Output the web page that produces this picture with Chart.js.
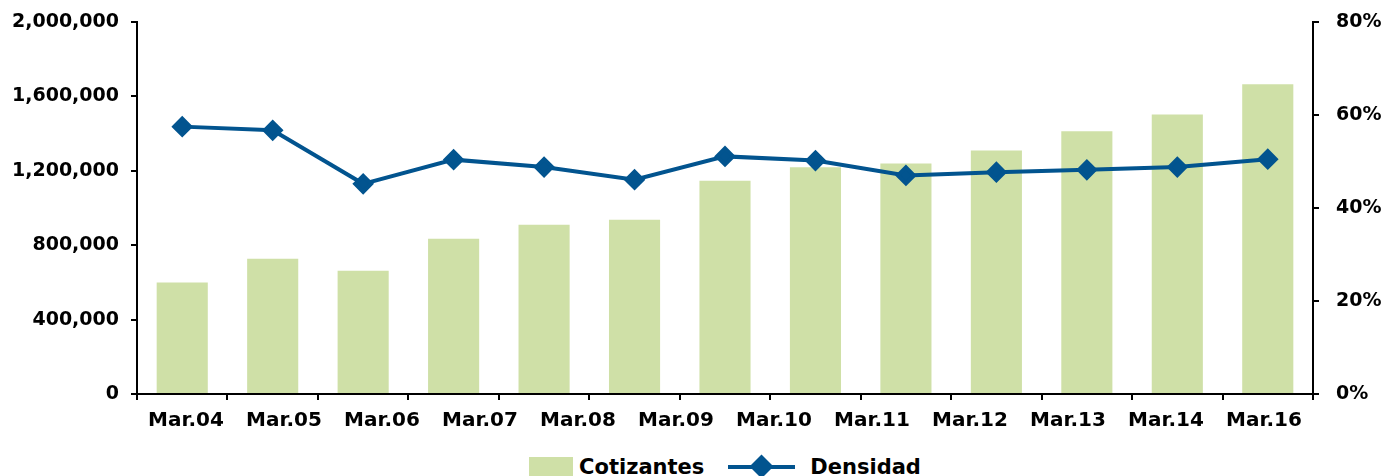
<!DOCTYPE html>
<html>
<head>
<meta charset="utf-8">
<script src="https://cdn.jsdelivr.net/npm/chart.js@4/dist/chart.umd.min.js"></script>
<style>
  body { margin: 0; background: #fff; overflow: hidden; }
  #wrap { position: relative; width: 1387px; height: 476px; overflow: hidden; }
  #box { position: absolute; left: 0; top: 0; width: 1387px; height: 441px; }
  #legend { position: absolute; top: 455px; display: flex; justify-content: center; align-items: center;
            font: bold 21px "DejaVu Sans", sans-serif; color: #000; }
  .item { display: flex; align-items: center; }
  .swatch { width: 44px; height: 20px; margin-right: 6px; }
  .linekey { position: relative; width: 67px; height: 4px; margin-left: 24px; margin-right: 15px; }
  .linekey span { position: absolute; left: 25px; top: -7px; width: 17px; height: 17px; transform: rotate(45deg); }
</style>
</head>
<body>
<div id="wrap">
  <div id="box"><canvas id="chart"></canvas></div>
  <div id="legend"></div>
</div>
<script>
const categories = ['Mar.04', 'Mar.05', 'Mar.06', 'Mar.07', 'Mar.08', 'Mar.09', 'Mar.10',
                    'Mar.11', 'Mar.12', 'Mar.13', 'Mar.14', 'Mar.15', 'Mar.16'];
const tickLabels = ['Mar.04', 'Mar.05', 'Mar.06', 'Mar.07', 'Mar.08', 'Mar.09', 'Mar.10',
                    'Mar.11', 'Mar.12', 'Mar.13', 'Mar.14', 'Mar.16'];
const cotizantes = [600000, 727000, 662000, 835000, 910000, 937000, 1147000,
                    1219000, 1239000, 1309000, 1412000, 1503000, 1665000];
const densidad = [57.5, 56.7, 45.2, 50.4, 48.8, 46.1, 51.1, 50.2, 47.0, 47.7, 48.2, 48.8, 50.5];

const green = '#cfe0a7';
const blue = '#02548f';
const tickFont = { family: 'DejaVu Sans', size: 19, weight: 'bold' };

// fixed axis sizes so the plot area sits where the original one does
function fixVertical(width) {
    return s => { s.width = width; s.paddingTop = 0; s.paddingBottom = 0; };
}

const ctx = document.getElementById('chart').getContext('2d');
const chart = new Chart(ctx, {
    data: {
        labels: categories,
        datasets: [{
            type: 'line',
            label: 'Densidad',
            data: densidad,
            yAxisID: 'y1',
            borderColor: blue,
            backgroundColor: blue,
            borderWidth: 4,
            pointStyle: 'rectRot',
            pointRadius: 8,
            pointHoverRadius: 8,
            tension: 0,
            order: 0
        }, {
            type: 'bar',
            label: 'Cotizantes',
            data: cotizantes,
            yAxisID: 'y',
            backgroundColor: green,
            categoryPercentage: 1,
            barPercentage: 0.565,
            order: 1
        }]
    },
    options: {
        responsive: true,
        maintainAspectRatio: false,
        animation: false,
        layout: { padding: { top: 22, left: 0, right: 0, bottom: 0 } },
        plugins: {
            legend: { display: false },
            tooltip: { enabled: false }
        },
        scales: {
            x: {
                weight: 0,
                offset: true,
                grid: { drawOnChartArea: false, color: '#000', lineWidth: 2, tickLength: 6, offset: true },
                border: { color: '#000', width: 2 },
                ticks: { display: false },
                afterFit: s => { s.height = 7; }
            },
            xLabels: {
                type: 'category',
                labels: tickLabels,
                position: 'bottom',
                weight: 1,
                offset: true,
                grid: { display: false },
                border: { display: false },
                ticks: { font: { family: 'DejaVu Sans', size: 20, weight: 'bold' }, color: '#000', padding: 0, autoSkip: false, maxRotation: 0 },
                afterFit: s => { s.height = 40; }
            },
            y: {
                position: 'left',
                min: 0,
                max: 2000000,
                ticks: {
                    stepSize: 400000,
                    font: tickFont,
                    color: '#000',
                    padding: 12,
                    callback: v => v.toLocaleString('en-US')
                },
                grid: { drawOnChartArea: false, color: '#000', lineWidth: 2, tickLength: 6 },
                border: { color: '#000', width: 2 },
                afterFit: fixVertical(137)
            },
            y1: {
                position: 'right',
                min: 0,
                max: 80,
                ticks: {
                    stepSize: 20,
                    font: tickFont,
                    color: '#000',
                    padding: 17,
                    callback: v => v + '%'
                },
                grid: { drawOnChartArea: false, color: '#000', lineWidth: 2, tickLength: 6 },
                border: { color: '#000', width: 2 },
                afterFit: fixVertical(74)
            }
        }
    }
});

// HTML legend built from the datasets, centred under the plot area
const legend = document.getElementById('legend');
const area = chart.chartArea;
legend.style.left = area.left + 'px';
legend.style.width = (area.right - area.left) + 'px';
const bars = chart.data.datasets[1];
const line = chart.data.datasets[0];
legend.innerHTML =
    '<div class="item"><div class="swatch" style="background:' + bars.backgroundColor + '"></div>' + bars.label + '</div>' +
    '<div class="item"><div class="linekey" style="background:' + line.borderColor + '"><span style="background:' +
    line.borderColor + '"></span></div>' + line.label + '</div>';
</script>
</body>
</html>
